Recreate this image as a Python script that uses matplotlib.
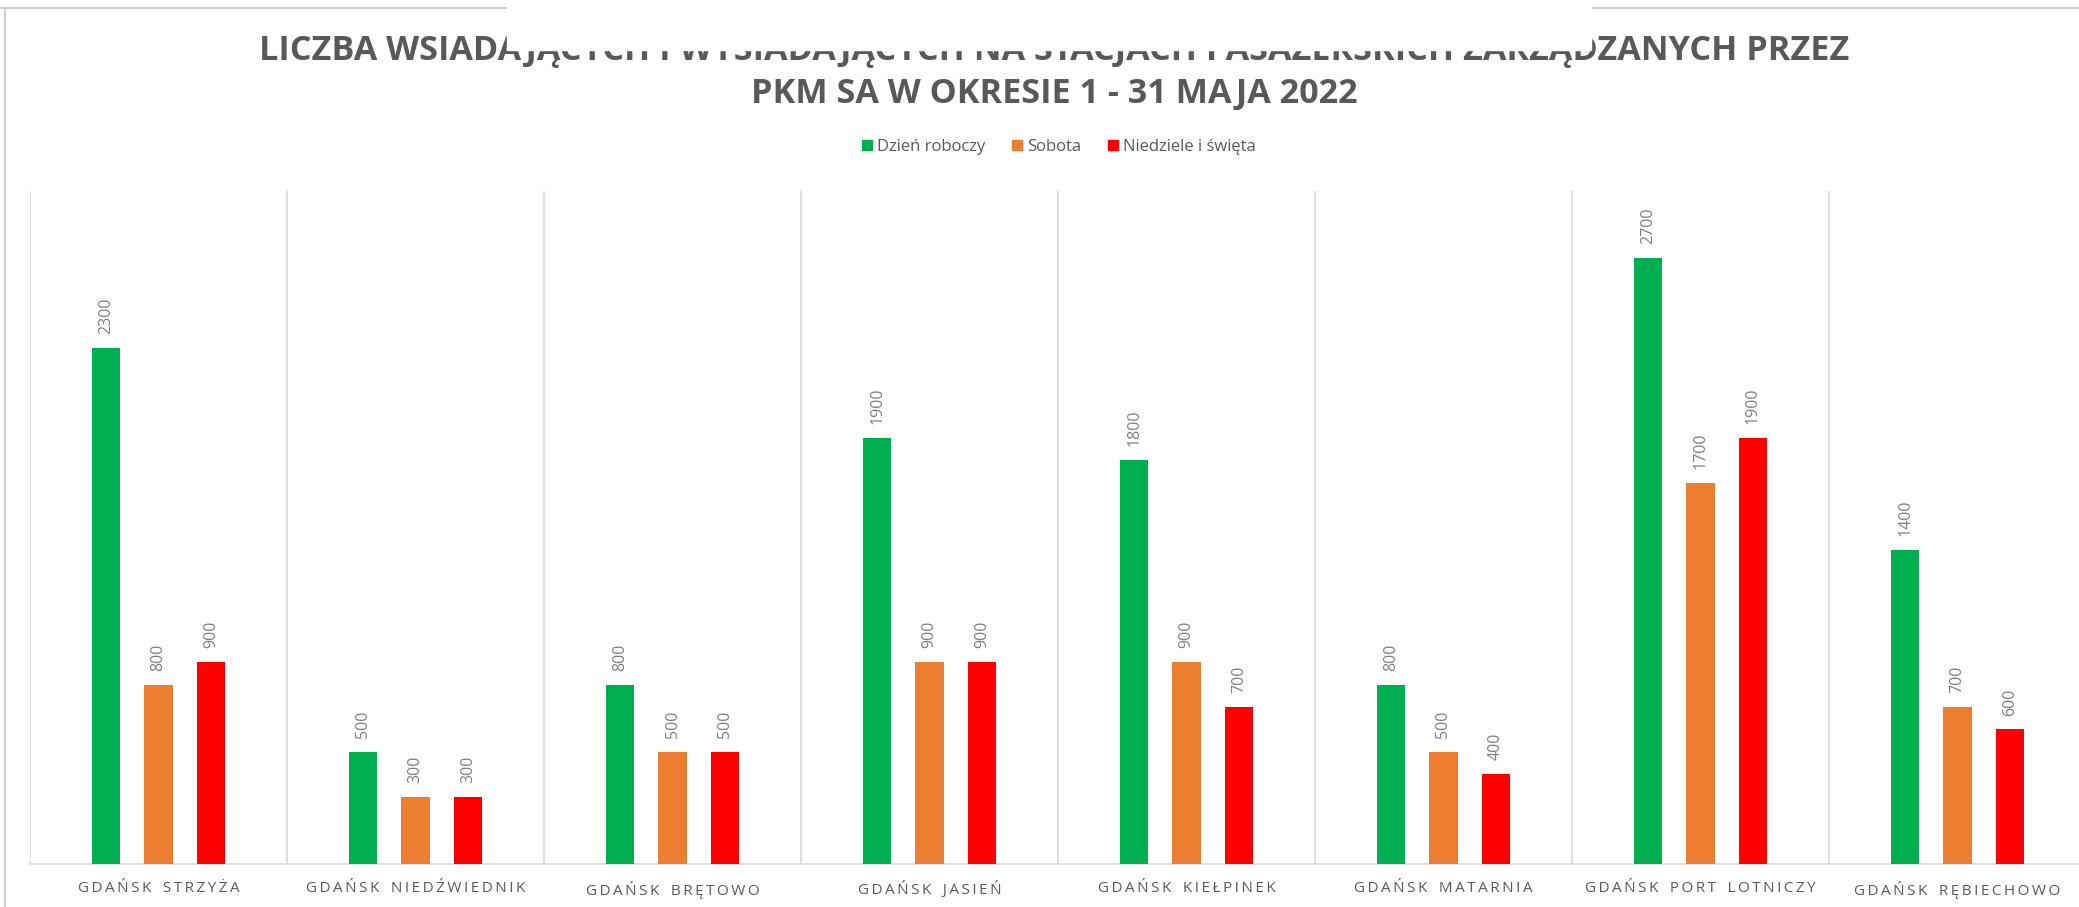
import matplotlib
import matplotlib.pyplot as plt
import numpy as np
from matplotlib.lines import Line2D
from matplotlib.patches import Rectangle

matplotlib.use('Agg')

stations = ["GDAŃSK STRZYŻA", "GDAŃSK NIEDŹWIEDNIK", "GDAŃSK BRĘTOWO", "GDAŃSK JASIEŃ",
            "GDAŃSK KIEŁPINEK", "GDAŃSK MATARNIA", "GDAŃSK PORT LOTNICZY", "GDAŃSK RĘBIECHOWO"]
workday = [2300, 500, 800, 1900, 1800, 800, 2700, 1400]
saturday = [800, 300, 500, 900, 900, 500, 1700, 700]
sunday = [900, 300, 500, 900, 700, 400, 1900, 600]
series_names = ["Dzień roboczy", "Sobota", "Niedziele i święta"]

title_1 = "LICZBA WSIADAJĄCYCH I WYSIADAJĄCYCH NA STACJACH PASAŻERSKICH ZARZĄDZANYCH PRZEZ"
title_2 = "PKM SA W OKRESIE 1 - 31 MAJA 2022"

colors = ["#00B050", "#ED7D31", "#FF0000"]
W, H = 2079, 907


def spaced(s):
    """Imitate wide letter spacing of the category labels."""
    return "\u2009".join(s).replace("\u2009 \u2009", "\u2009\u2009 \u2009")


def px(x, y):
    return x / W, 1 - y / H


plt.rcParams['font.family'] = ['Open Sans', 'DejaVu Sans']

fig = plt.figure(figsize=(W / 100, H / 100), dpi=100)
left, right = px(30, 0)[0], px(30 + 8 * 257, 0)[0]
bottom, top = px(0, 864)[1], px(0, 191)[1]
ax = fig.add_axes([left, bottom, right - left, top - bottom])

x = np.arange(len(stations))
width = 0.109
step = 0.204
for i, (vals, name) in enumerate(zip([workday, saturday, sunday], series_names)):
    bars = ax.bar(x + (i - 1) * step, vals, width, color=colors[i], label=name, zorder=3)
    ax.bar_label(bars, padding=10, rotation=90, fontsize=11.5, color="#7F7F7F")

ax.set_xlim(-0.5, len(stations) - 0.5)
ax.set_ylim(0, 3000)
ax.set_yticks([])
ax.set_xticks(x)
ax.set_xticklabels([spaced(s) for s in stations], fontsize=11, color="#595959")
ax.tick_params(axis='x', length=0, pad=12)
ax.set_xticks(np.arange(len(stations) + 1) - 0.5, minor=True)
ax.tick_params(axis='x', which='minor', length=0)
ax.grid(axis='x', which='minor', color="#D9D9D9", linewidth=1.2)
for s in ["top", "left", "right"]:
    ax.spines[s].set_visible(False)
ax.spines["bottom"].set_color("#D9D9D9")
ax.spines["bottom"].set_linewidth(1.2)

cx = 1054
fig.text(*px(cx, 60), title_1, ha='center', va='baseline', fontsize=24.6,
         fontweight='bold', color="#595959")
fig.text(*px(cx, 103), title_2, ha='center', va='baseline', fontsize=24.6,
         fontweight='bold', color="#595959")

handles = [Rectangle((0, 0), 1, 1, color=c) for c in colors]
fig.legend(handles, series_names, loc='center', bbox_to_anchor=px(1059, 147), ncol=3,
           frameon=False, fontsize=12, labelcolor="#595959", handlelength=0.6,
           handleheight=0.6, handletextpad=0.3, columnspacing=1.6)

# card border and the white patch that hides part of it
fig.add_artist(Line2D([px(5, 0)[0]] * 2, [px(0, 8)[1], 0], color="#D0D0D0", lw=1.5))
fig.add_artist(Line2D([0, 1], [px(0, 8)[1]] * 2, color="#D0D0D0", lw=1.5))
fig.add_artist(Rectangle(px(507, 50), (1591 - 507) / W, 50 / H, color="white", zorder=10))

fig.savefig("out.png", dpi=100, facecolor="white")
